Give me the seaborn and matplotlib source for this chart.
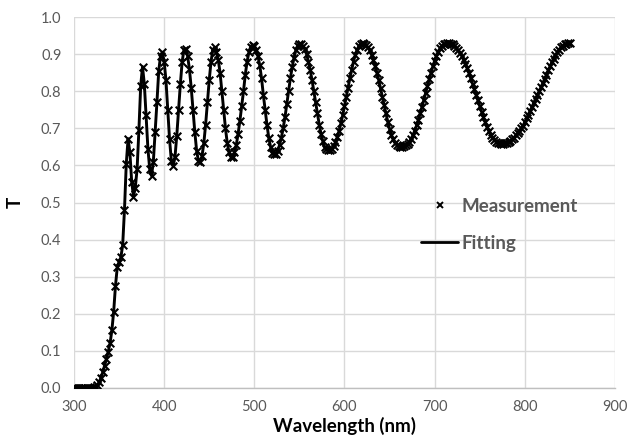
import matplotlib
matplotlib.use("Agg")
import matplotlib.pyplot as plt
import seaborn as sns
import pandas as pd
from matplotlib.lines import Line2D

# ---- data ----
wavelength_nm = list(range(300, 852, 2))
measured_T = [
    0.000, 0.000, 0.000, 0.000, 0.000, 0.000, 0.000, 0.000, 0.000, 0.001,
    0.001, 0.002, 0.004, 0.008, 0.016, 0.028, 0.043, 0.060, 0.078, 0.098,
    0.120, 0.155, 0.205, 0.275, 0.325, 0.340, 0.352, 0.385, 0.480, 0.605,
    0.672, 0.635, 0.556, 0.516, 0.540, 0.590, 0.695, 0.815, 0.866, 0.820,
    0.735, 0.645, 0.590, 0.572, 0.610, 0.690, 0.770, 0.855, 0.895, 0.905,
    0.880, 0.830, 0.750, 0.670, 0.612, 0.598, 0.622, 0.680, 0.750, 0.820,
    0.880, 0.912, 0.914, 0.895, 0.860, 0.810, 0.750, 0.690, 0.640, 0.612,
    0.608, 0.625, 0.660, 0.710, 0.770, 0.830, 0.880, 0.912, 0.918, 0.905,
    0.885, 0.850, 0.800, 0.750, 0.700, 0.660, 0.635, 0.623, 0.624, 0.635,
    0.655, 0.685, 0.720, 0.760, 0.800, 0.845, 0.880, 0.905, 0.920, 0.925,
    0.922, 0.912, 0.895, 0.870, 0.835, 0.790, 0.750, 0.710, 0.675, 0.650,
    0.634, 0.630, 0.632, 0.640, 0.655, 0.675, 0.700, 0.730, 0.765, 0.800,
    0.835, 0.865, 0.890, 0.910, 0.922, 0.927, 0.926, 0.922, 0.913, 0.900,
    0.880, 0.857, 0.830, 0.800, 0.770, 0.740, 0.710, 0.685, 0.665, 0.650,
    0.643, 0.641, 0.641, 0.645, 0.652, 0.662, 0.676, 0.693, 0.713, 0.735,
    0.760, 0.785, 0.810, 0.835, 0.858, 0.880, 0.898, 0.912, 0.922, 0.928,
    0.929, 0.928, 0.924, 0.918, 0.910, 0.898, 0.884, 0.868, 0.850, 0.830,
    0.808, 0.785, 0.762, 0.740, 0.718, 0.698, 0.682, 0.670, 0.661, 0.655,
    0.651, 0.650, 0.650, 0.651, 0.654, 0.658, 0.664, 0.672, 0.682, 0.694,
    0.708, 0.723, 0.740, 0.758, 0.776, 0.795, 0.814, 0.832, 0.850, 0.867,
    0.882, 0.896, 0.907, 0.916, 0.922, 0.926, 0.928, 0.929, 0.929, 0.928,
    0.926, 0.922, 0.917, 0.911, 0.904, 0.895, 0.885, 0.874, 0.862, 0.849,
    0.835, 0.820, 0.805, 0.790, 0.775, 0.760, 0.745, 0.731, 0.717, 0.704,
    0.693, 0.683, 0.675, 0.669, 0.664, 0.661, 0.660, 0.659, 0.659, 0.660,
    0.661, 0.663, 0.666, 0.670, 0.675, 0.681, 0.687, 0.694, 0.700, 0.707,
    0.717, 0.727, 0.737, 0.748, 0.758, 0.769, 0.780, 0.790, 0.800, 0.811,
    0.822, 0.833, 0.844, 0.856, 0.867, 0.878, 0.888, 0.897, 0.905, 0.912,
    0.918, 0.923, 0.926, 0.928, 0.929, 0.930,
]
# the fitted curve lies on the measured points everywhere in the picture
fitting_T = list(measured_T)

x_ticks = [300, 400, 500, 600, 700, 800, 900]
y_ticks = [0.0, 0.1, 0.2, 0.3, 0.4, 0.5, 0.6, 0.7, 0.8, 0.9, 1.0]
series_labels = ["Measurement", "Fitting"]

df_meas = pd.DataFrame({"wl": wavelength_nm, "T": measured_T})
df_fit = pd.DataFrame({"wl": wavelength_nm, "T": fitting_T})

# ---- style ----
sns.set_theme(style="white")
plt.rcParams["font.family"] = ["Lato", "DejaVu Sans"]

fig = plt.figure(figsize=(6.35, 4.42), dpi=100)
ax = fig.add_axes([0.1165, 0.1222, 0.852, 0.8393])

sns.lineplot(data=df_fit, x="wl", y="T", ax=ax, color="black",
             linewidth=2.1, zorder=3, legend=False)
sns.scatterplot(data=df_meas, x="wl", y="T", ax=ax, marker="x", color="black",
                s=30, linewidth=1.5, zorder=4, legend=False)

ax.set_xlim(300, 900)
ax.set_ylim(0, 1.0)
ax.set_xticks(x_ticks)
ax.set_yticks(y_ticks)
ax.set_yticklabels([f"{v:.1f}" for v in y_ticks])
ax.grid(True, color="#d9d9d9", linewidth=1.0)
ax.set_axisbelow(True)
for side in ["top", "right", "left"]:
    ax.spines[side].set_visible(False)
ax.spines["bottom"].set_color("#bfbfbf")
ax.spines["bottom"].set_linewidth(1.0)
ax.tick_params(axis="both", length=0, labelsize=10.5, colors="#595959")
ax.tick_params(axis="x", pad=9)
ax.tick_params(axis="y", pad=9)

ax.set_xlabel("Wavelength (nm)", fontsize=13.5, fontweight="bold",
              color="black", labelpad=2)
ax.set_ylabel("T", fontsize=13.5, fontweight="bold", color="black", labelpad=12)

handles = [
    Line2D([], [], linestyle="none", marker="x", color="black",
           markersize=5, markeredgewidth=1.4),
    Line2D([], [], color="black", linewidth=2.0),
]
leg = ax.legend(handles, series_labels, loc="center left",
                bbox_to_anchor=(0.61, 0.44), frameon=False,
                prop={"size": 13.5, "weight": "bold"},
                handlelength=2.0, handletextpad=0.15, labelspacing=1.05)
for t in leg.get_texts():
    t.set_color("#595959")

fig.savefig("out.png", dpi=100)
